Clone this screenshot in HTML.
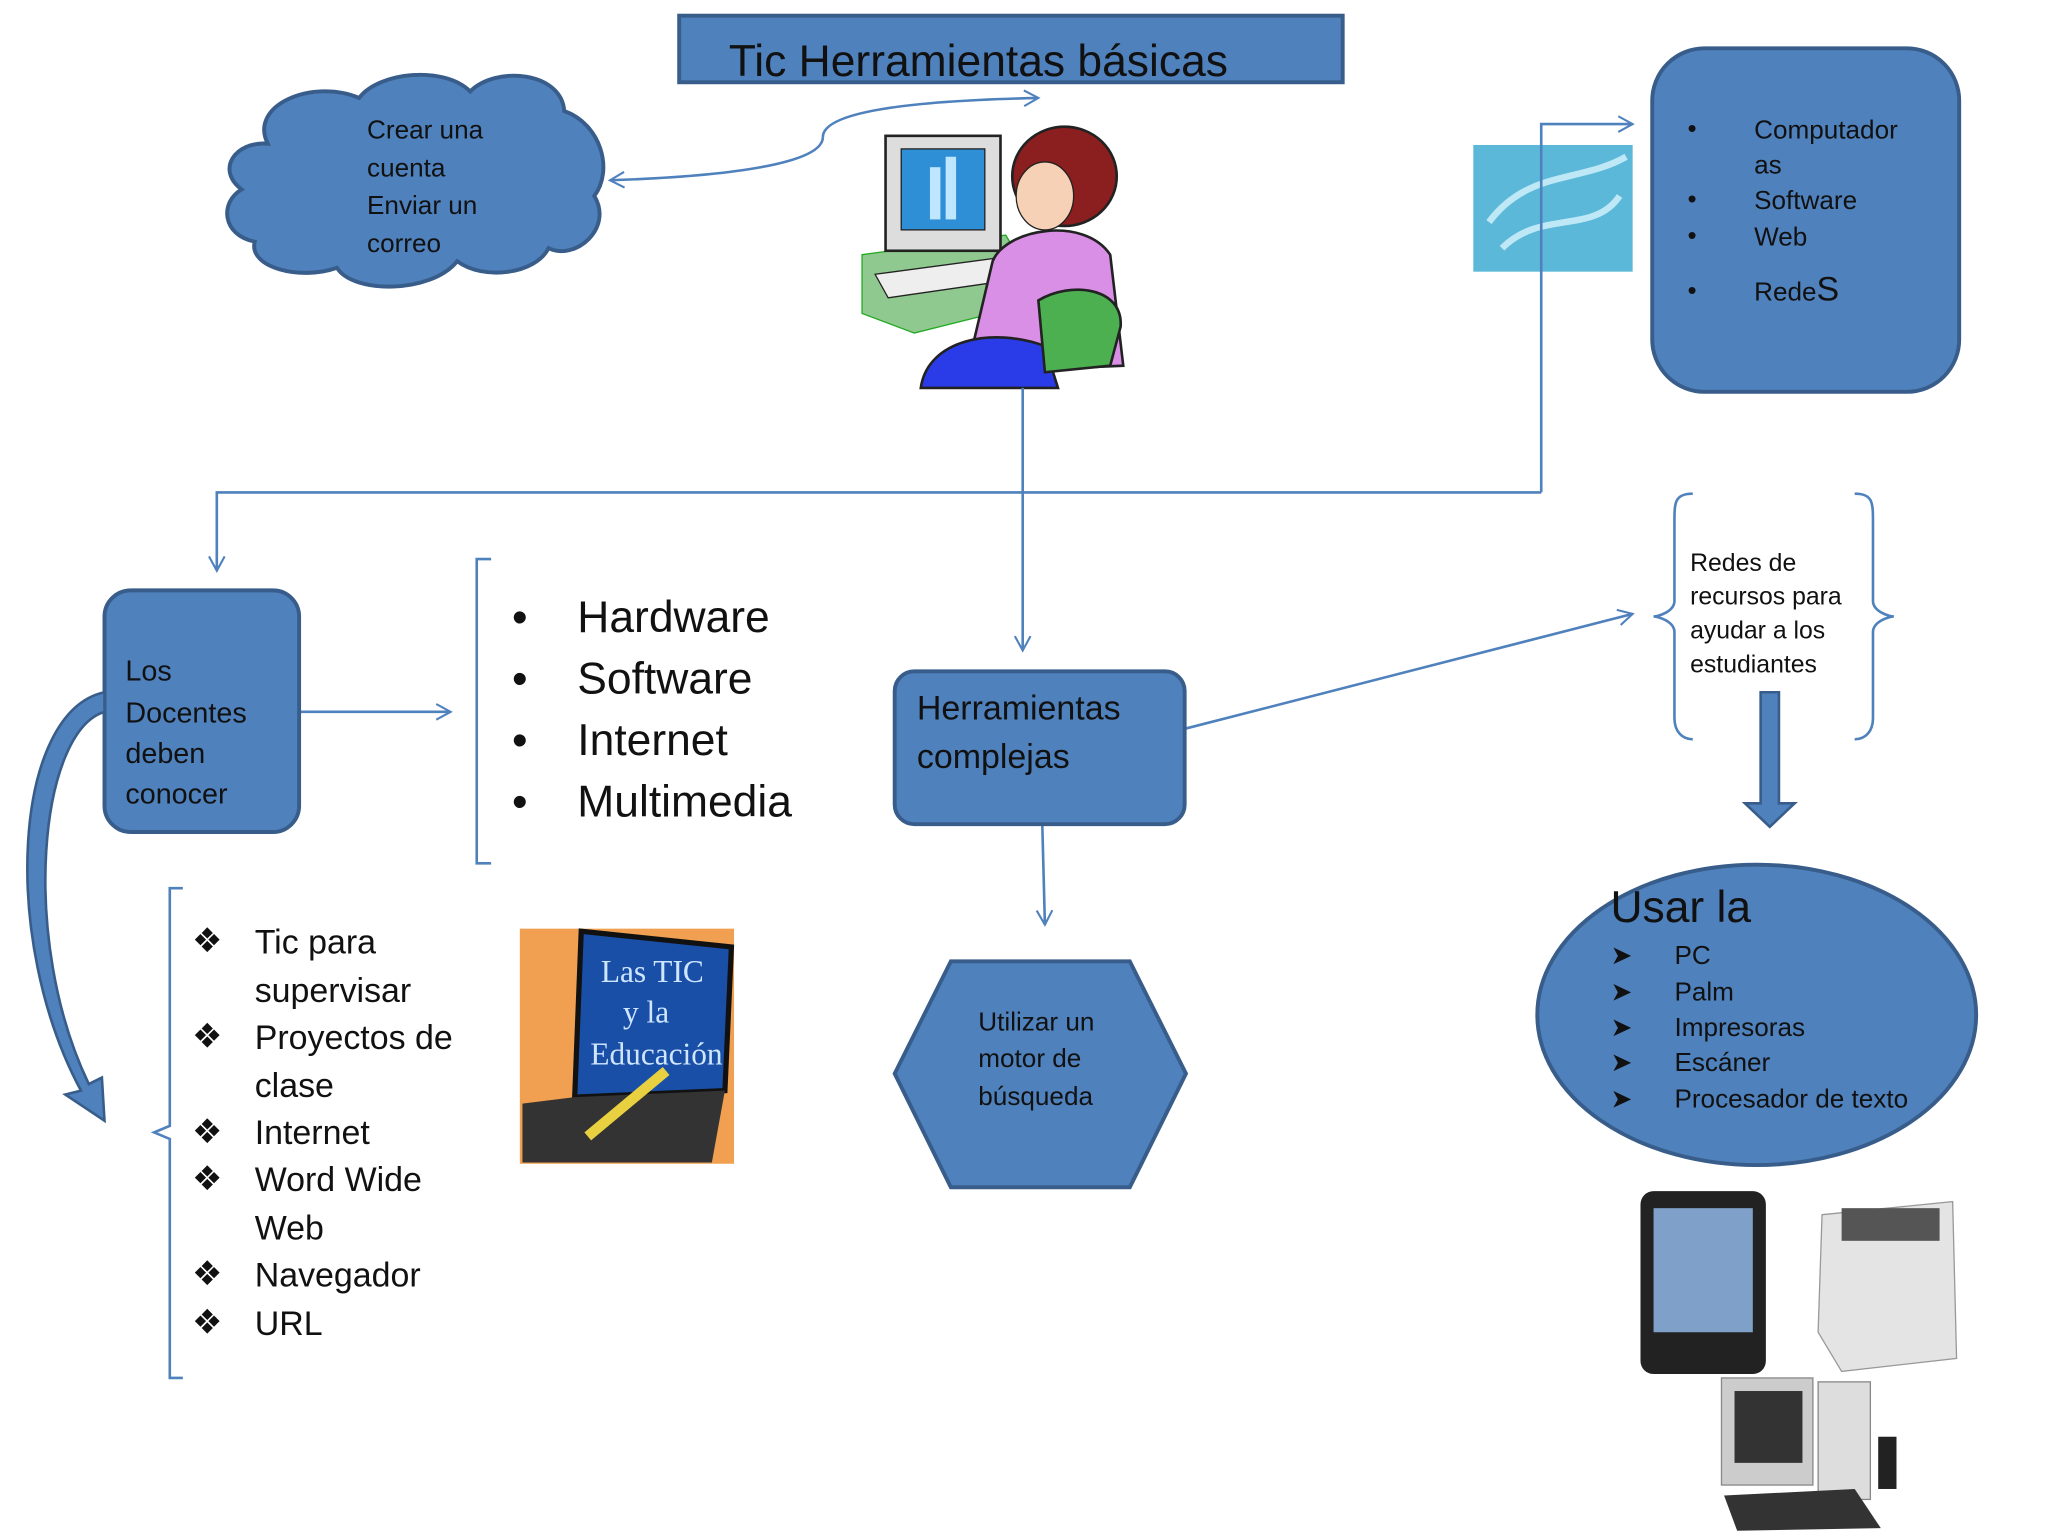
<!DOCTYPE html>
<html><head><meta charset="utf-8"><style>
html,body{margin:0;padding:0;background:#fff;}
svg{display:block;}
text{font-family:"Liberation Sans","DejaVu Sans",sans-serif;fill:#111;}
</style></head><body>
<svg width="2048" height="1536" viewBox="0 0 1568 1176" preserveAspectRatio="none" xmlns="http://www.w3.org/2000/svg">
<defs>
<marker id="ar" markerWidth="14" markerHeight="14" refX="12" refY="7" orient="auto" markerUnits="userSpaceOnUse">
<path d="M1,1 L12,7 L1,13" fill="none" stroke="#4f81bd" stroke-width="1.6"/>
</marker>
</defs>
<rect width="1568" height="1176" fill="#fff"/>
<rect x="520" y="12" width="508" height="51" fill="#4f81bd" stroke="#385d8a" stroke-width="3"/>
<text x="558" y="58" font-size="34">Tic Herramientas básicas</text>
<g fill="#4f81bd" stroke="#385d8a" stroke-width="3">
<path d="M205,110 C190,80 240,60 275,75 C290,55 340,50 360,70 C380,50 430,55 432,85 C460,95 470,130 455,150 C470,175 440,200 420,190 C410,210 370,215 350,200 C330,225 270,225 258,205 C230,215 190,205 195,185 C170,180 168,155 185,145 C165,130 180,108 205,110 Z"/>
</g>
<g font-size="20"><text x="281" y="106">Crear una</text><text x="281" y="135">cuenta</text><text x="281" y="164">Enviar un</text><text x="281" y="193">correo</text></g>
<path d="M630,105 C630,85 700,77 795,75" fill="none" stroke="#4f81bd" stroke-width="2" marker-end="url(#ar)"/>
<path d="M630,105 C630,125 560,135 467,138" fill="none" stroke="#4f81bd" stroke-width="2" marker-end="url(#ar)"/>
<g>
<polygon points="660,195 770,180 800,230 700,255 660,240" fill="#8fc98f" stroke="#2a2" stroke-width="1"/>
<rect x="678" y="104" width="88" height="88" fill="#ddd" stroke="#222" stroke-width="2"/>
<rect x="690" y="114" width="64" height="62" fill="#2e8fd6" stroke="#222"/>
<rect x="712" y="128" width="8" height="40" fill="#bfe6ff"/><rect x="724" y="120" width="8" height="48" fill="#bfe6ff"/>
<polygon points="670,210 760,198 770,215 680,228" fill="#eee" stroke="#222"/>
<ellipse cx="815" cy="135" rx="40" ry="38" fill="#8b1e1e" stroke="#222" stroke-width="2"/>
<ellipse cx="800" cy="150" rx="22" ry="26" fill="#f6d1b5" stroke="#222"/>
<path d="M760,200 C770,175 830,165 850,195 L860,280 L740,285 Z" fill="#d98fe6" stroke="#222" stroke-width="2"/>
<path d="M705,297 C710,260 760,250 800,265 L810,297 Z" fill="#2a3be8" stroke="#222" stroke-width="2"/>
<path d="M795,230 C820,215 860,220 858,250 L850,280 L800,285 Z" fill="#4caf50" stroke="#222" stroke-width="2"/>
</g>
<rect x="1265" y="37" width="235" height="263" rx="40" fill="#4f81bd" stroke="#385d8a" stroke-width="3"/>
<g font-size="20"><text x="1292" y="105">•</text><text x="1343" y="106">Computador</text><text x="1343" y="133">as</text>
<text x="1292" y="159">•</text><text x="1343" y="160">Software</text>
<text x="1292" y="187">•</text><text x="1343" y="188">Web</text>
<text x="1292" y="229">•</text><text x="1343" y="230">Rede<tspan font-size="26">S</tspan></text></g>
<rect x="1128" y="111" width="122" height="97" fill="#5bb8d8"/>
<path d="M1140,170 C1170,130 1210,140 1245,120 M1150,190 C1180,160 1220,180 1240,150" stroke="#d8f4ff" stroke-width="5" fill="none" opacity="0.8"/>
<g fill="none" stroke="#4f81bd" stroke-width="2">
<path d="M1180,377 L1180,95 L1250,95" marker-end="url(#ar)"/>
<path d="M1180,377 L166,377 L166,437" marker-end="url(#ar)"/>
<path d="M783,297 L783,498" marker-end="url(#ar)"/>
<path d="M229,545 L345,545" marker-end="url(#ar)"/>
<path d="M907,558 L1250,470" marker-end="url(#ar)"/>
<path d="M798,631 L800,708" marker-end="url(#ar)"/>
<path d="M376,428 L365,428 L365,661 L376,661"/>
<path d="M140,680 L130,680 L130,862 L118,867 L130,872 L130,1055 L140,1055"/>
<path d="M1296,378 C1282,378 1282,385 1282,400 L1282,460 C1282,468 1270,472 1266,472 C1270,472 1282,476 1282,484 L1282,550 C1282,560 1288,566 1296,566"/>
<path d="M1420,378 C1434,378 1434,385 1434,400 L1434,460 C1434,468 1446,472 1450,472 C1446,472 1434,476 1434,484 L1434,550 C1434,560 1428,566 1420,566"/>
</g>
<rect x="80" y="452" width="149" height="185" rx="20" fill="#4f81bd" stroke="#385d8a" stroke-width="3"/>
<g font-size="22"><text x="96" y="521">Los</text><text x="96" y="553">Docentes</text><text x="96" y="584">deben</text><text x="96" y="615">conocer</text></g>
<path d="M80,530 C10,545 0,720 62,835 L50,838 L80,858 L78,825 L68,830 C15,720 30,560 80,545 Z" fill="#4f81bd" stroke="#385d8a" stroke-width="2"/>
<g font-size="34"><text x="392" y="484">•</text><text x="442" y="484">Hardware</text>
<text x="392" y="531">•</text><text x="442" y="531">Software</text>
<text x="392" y="578">•</text><text x="442" y="578">Internet</text>
<text x="392" y="625">•</text><text x="442" y="625">Multimedia</text></g>
<rect x="685" y="514" width="222" height="117" rx="15" fill="#4f81bd" stroke="#385d8a" stroke-width="3"/>
<g font-size="26"><text x="702" y="551">Herramientas</text><text x="702" y="588">complejas</text></g>
<g font-size="19"><text x="1294" y="437">Redes de</text><text x="1294" y="463">recursos para</text><text x="1294" y="489">ayudar a los</text><text x="1294" y="515">estudiantes</text></g>
<path d="M1348,530 L1362,530 L1362,615 L1374,615 L1355,633 L1336,615 L1348,615 Z" fill="#4f81bd" stroke="#385d8a" stroke-width="2"/>
<ellipse cx="1345" cy="777" rx="168" ry="115" fill="#4f81bd" stroke="#385d8a" stroke-width="3"/>
<text x="1233" y="706" font-size="34">Usar  la</text>
<g font-size="20"><text x="1233" y="738">➤</text><text x="1282" y="738">PC</text>
<text x="1233" y="766">➤</text><text x="1282" y="766">Palm</text>
<text x="1233" y="793">➤</text><text x="1282" y="793">Impresoras</text>
<text x="1233" y="820">➤</text><text x="1282" y="820">Escáner</text>
<text x="1233" y="848">➤</text><text x="1282" y="848">Procesador de texto</text></g>
<polygon points="685,822 728,736 865,736 908,822 865,909 728,909" fill="#4f81bd" stroke="#385d8a" stroke-width="3"/>
<g font-size="20"><text x="749" y="789">Utilizar un</text><text x="749" y="817">motor de</text><text x="749" y="846">búsqueda</text></g>
<g font-size="26"><text x="147" y="729">❖</text><text x="195" y="730">Tic para</text><text x="195" y="767">supervisar</text>
<text x="147" y="802">❖</text><text x="195" y="803">Proyectos de</text><text x="195" y="840">clase</text>
<text x="147" y="875">❖</text><text x="195" y="876">Internet</text>
<text x="147" y="911">❖</text><text x="195" y="912">Word Wide</text><text x="195" y="949">Web</text>
<text x="147" y="984">❖</text><text x="195" y="985">Navegador</text>
<text x="147" y="1021">❖</text><text x="195" y="1022">URL</text></g>
<rect x="398" y="711" width="164" height="180" fill="#f0a050"/>
<polygon points="445,713 560,725 555,835 440,840" fill="#1a4fa8" stroke="#111" stroke-width="4"/>
<polygon points="400,845 440,840 555,835 545,890 400,890" fill="#333"/>
<line x1="450" y1="870" x2="510" y2="820" stroke="#e8d040" stroke-width="8"/>
<g font-size="24"><text x="460" y="752" style="fill:#cfe6ff;font-family:'Liberation Serif',serif">Las TIC</text><text x="477" y="783" style="fill:#cfe6ff;font-family:'Liberation Serif',serif">y la</text><text x="452" y="815" style="fill:#cfe6ff;font-family:'Liberation Serif',serif">Educación</text></g>
<rect x="1256" y="912" width="96" height="140" rx="10" fill="#222"/>
<rect x="1266" y="925" width="76" height="95" fill="#7fa0c8"/>
<path d="M1395,930 L1495,920 L1498,1040 L1410,1050 L1392,1020 Z" fill="#e4e4e4" stroke="#999"/>
<rect x="1410" y="925" width="75" height="25" fill="#555"/>
<rect x="1318" y="1055" width="70" height="82" fill="#ccc" stroke="#888"/>
<rect x="1328" y="1065" width="52" height="55" fill="#333"/>
<rect x="1392" y="1058" width="40" height="90" fill="#ddd" stroke="#888"/>
<polygon points="1320,1145 1420,1140 1440,1170 1330,1172" fill="#333"/>
<rect x="1438" y="1100" width="14" height="40" fill="#222"/>
</svg>
</body></html>
